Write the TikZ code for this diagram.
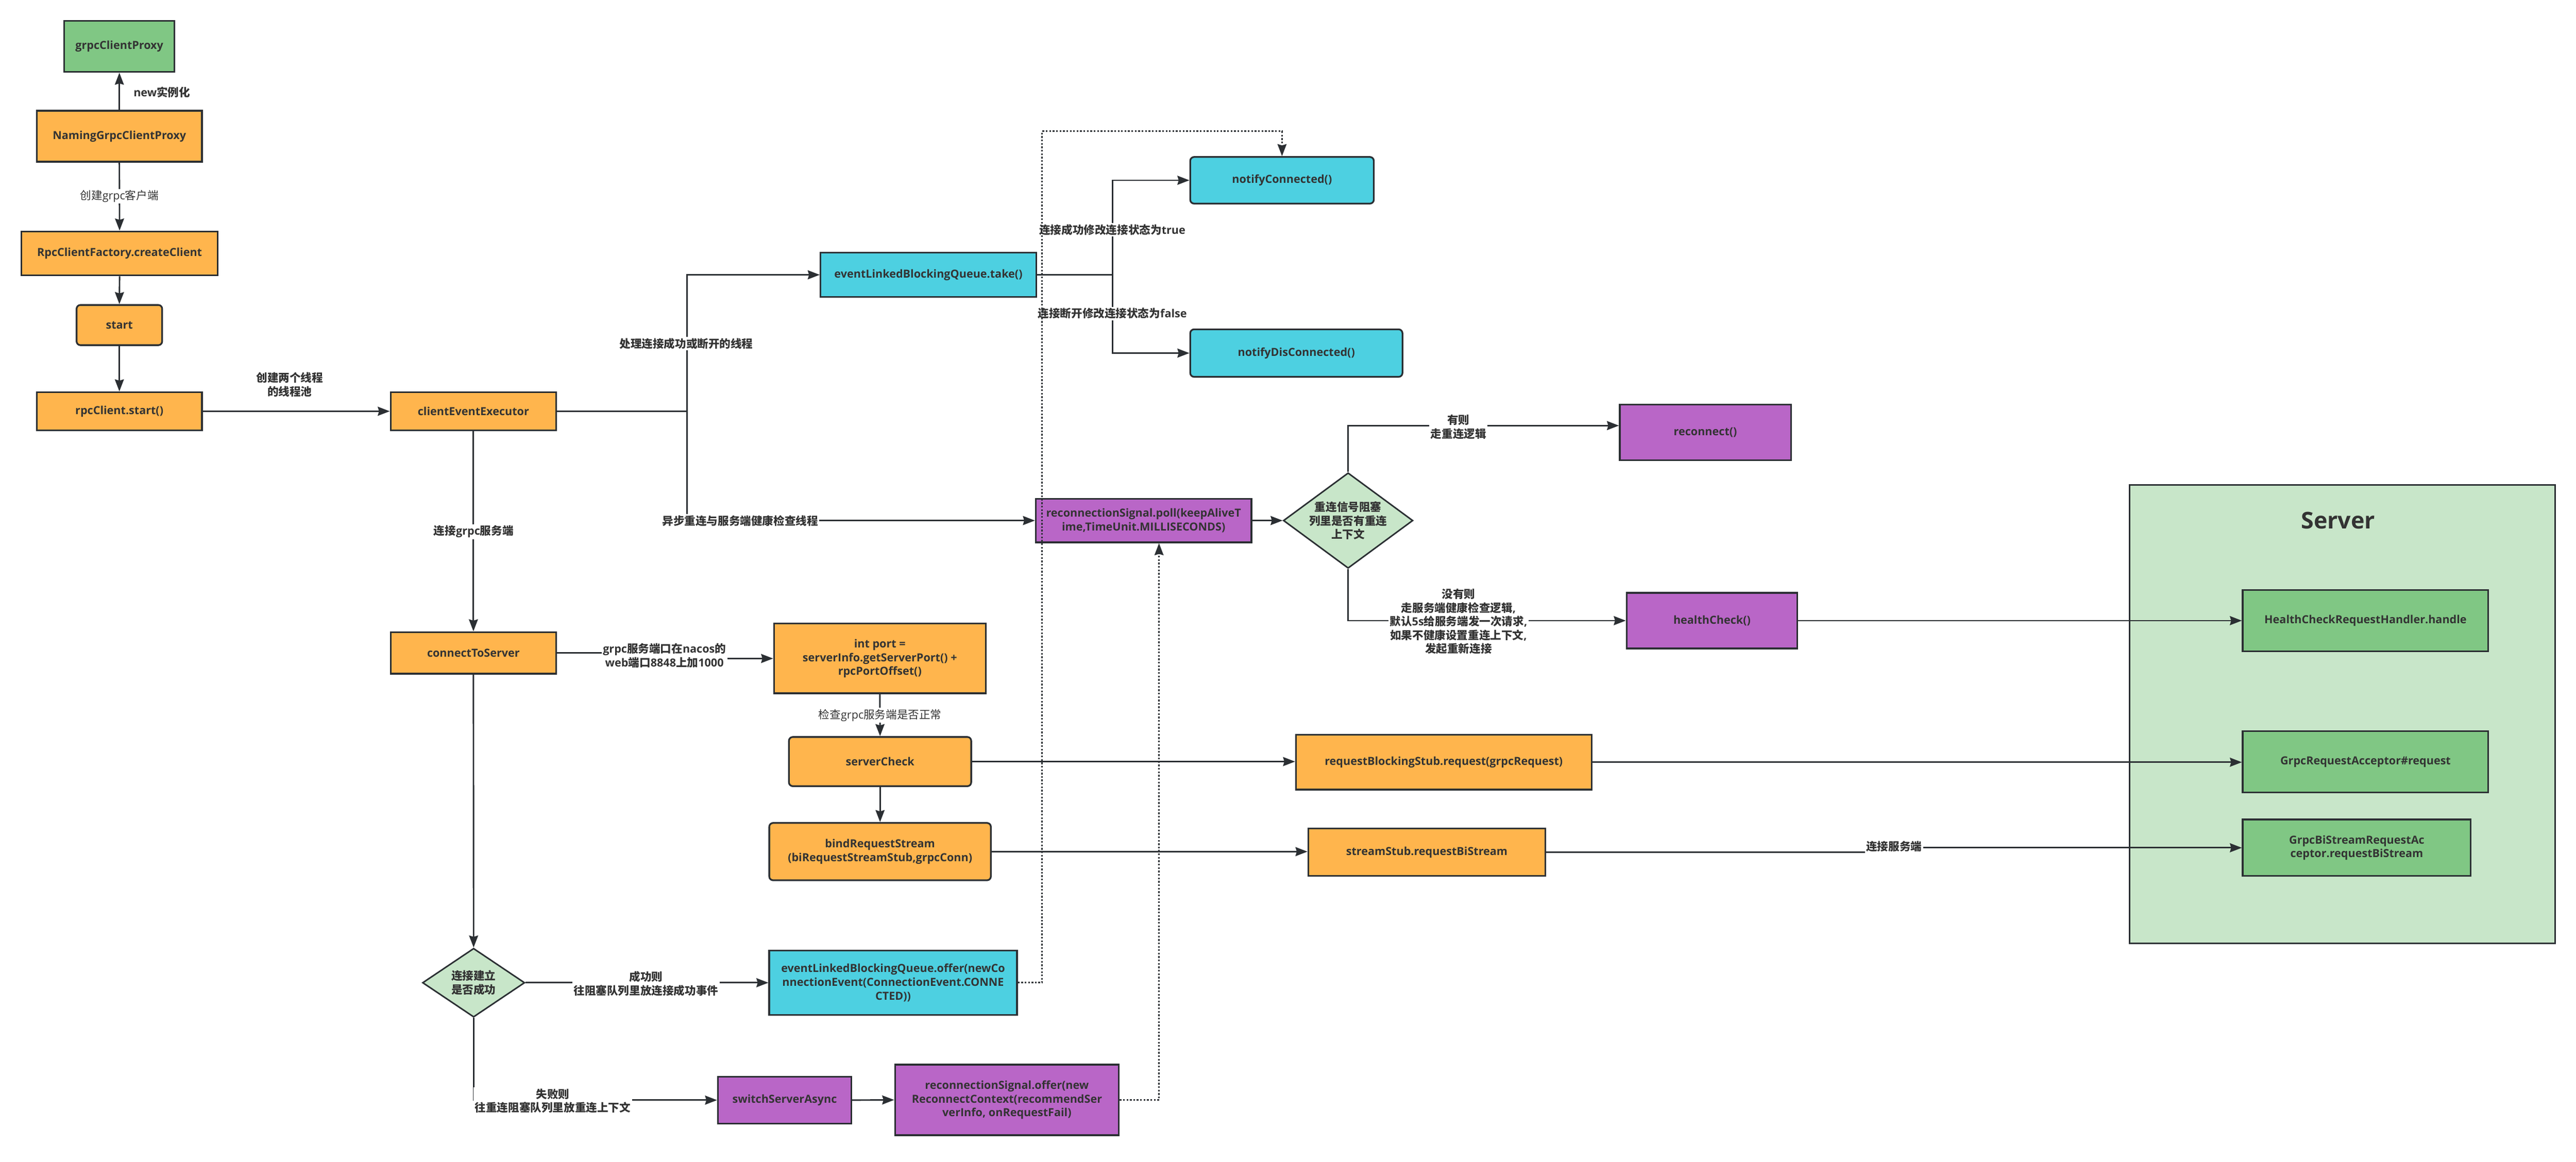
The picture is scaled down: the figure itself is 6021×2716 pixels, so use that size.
\documentclass[tikz,border=0pt]{standalone}
\usepackage{fontspec}
\setmainfont{Open Sans}
\newfontfamily\zhfont{Noto Sans CJK SC}
\newcommand\zhc[1]{{\zhfont #1}}
\usetikzlibrary{arrows.meta,shapes.geometric,calc}
\definecolor{cOrange}{HTML}{FFB54D}
\definecolor{cGreen}{HTML}{80C784}
\definecolor{cCyan}{HTML}{4DD0E1}
\definecolor{cPurple}{HTML}{B966C7}
\definecolor{cLight}{HTML}{C8E6C9}
\definecolor{cEdge}{HTML}{2B2F33}
\definecolor{cText}{HTML}{333333}
\begin{document}
\begin{tikzpicture}[x=1pt,y=-1pt,
  box/.style={draw=cEdge,line width=4pt,text=cText,align=center,inner sep=0pt,font=\fontsize{26}{32}\selectfont\bfseries},
  rbox/.style={box,rounded corners=9pt},
  dbox/.style={box,diamond,fill=cLight,line width=3.5pt},
  arr/.style={draw=cEdge,line width=3.5pt,-{Stealth[length=28pt,width=21pt,inset=3pt]}},
  dotarr/.style={arr,dash pattern=on 4pt off 4pt},
  lbl/.style={text=cText,align=center,inner sep=3pt,font=\fontsize{26}{32}\selectfont\bfseries},
  lblw/.style={lbl,fill=white},
  lbln/.style={lblw,font=\fontsize{26}{32}\selectfont\mdseries},
]
\fill[white] (0,0) rectangle (6021,2716);
\useasboundingbox (0,0) rectangle (6021,2716);

% server container
\node[draw=cEdge,line width=3.5pt,fill=cLight,minimum width=995pt,minimum height=1072pt,inner sep=0pt] (server) at (5474.5,1670) {};
\node[lbl,font=\fontsize{54}{60}\selectfont\bfseries] (servertitle) at (5465,1217) {Server};

% nodes
\node[box,fill=cGreen,minimum width=258pt,minimum height=119pt] (gcp) at (279,108.5) {grpcClientProxy};
\node[box,fill=cOrange,minimum width=386pt,minimum height=119pt] (ngcp) at (279,318.5) {NamingGrpcClientProxy};
\node[box,fill=cOrange,minimum width=459pt,minimum height=103pt] (rcf) at (279.5,592.5) {RpcClientFactory.createClient};
\node[rbox,fill=cOrange,minimum width=200pt,minimum height=94pt] (start) at (279,760) {start};
\node[box,fill=cOrange,minimum width=386pt,minimum height=89pt] (rcs) at (279,961.5) {rpcClient.start()};
\node[box,fill=cOrange,minimum width=387pt,minimum height=89pt] (cee) at (1106.5,961.5) {clientEventExecutor};
\node[box,fill=cCyan,minimum width=504pt,minimum height=103pt] (take) at (2170,642.5) {eventLinkedBlockingQueue.take()};
\node[rbox,fill=cCyan,minimum width=429pt,minimum height=109pt] (nc) at (2996.5,421.5) {notifyConnected()};
\node[rbox,fill=cCyan,minimum width=496pt,minimum height=111pt] (ndc) at (3030,825.5) {notifyDisConnected()};
\node[box,fill=cPurple,minimum width=504pt,minimum height=102pt] (poll) at (2673,1217) {reconnectionSignal.poll(keepAliveT\\ime,TimeUnit.MILLISECONDS)};
\node[dbox,minimum width=297pt,minimum height=219pt,aspect=1.356] (dia2) at (3151,1217) {\zhc{重连信号阻塞}\\\zhc{列里是否有重连}\\\zhc{上下文}};
\node[box,fill=cPurple,minimum width=400pt,minimum height=130pt] (recon) at (3986,1011) {reconnect()};
\node[box,fill=cPurple,minimum width=399pt,minimum height=130pt] (hc) at (4001.5,1451) {healthCheck()};
\node[box,fill=cOrange,minimum width=387pt,minimum height=97pt] (cts) at (1106.5,1526.5) {connectToServer};
\node[box,fill=cOrange,minimum width=495pt,minimum height=163pt] (port) at (2056.5,1539.5) {int port =\\serverInfo.getServerPort() +\\rpcPortOffset()};
\node[rbox,fill=cOrange,minimum width=426pt,minimum height=115pt] (sc) at (2057,1780.5) {serverCheck};
\node[rbox,fill=cOrange,minimum width=518pt,minimum height=134pt] (brs) at (2057,1991) {bindRequestStream\\(biRequestStreamStub,grpcConn)};
\node[box,fill=cOrange,minimum width=691pt,minimum height=128pt] (rbs) at (3374.5,1782) {requestBlockingStub.request(grpcRequest)};
\node[box,fill=cOrange,minimum width=554pt,minimum height=111pt] (ss) at (3335,1992.5) {streamStub.requestBiStream};
\node[dbox,minimum width=239pt,minimum height=161pt,aspect=1.484] (dia1) at (1107,2297.5) {\zhc{连接建立}\\\zhc{是否成功}};
\node[box,fill=cCyan,minimum width=579pt,minimum height=151pt] (offer) at (2087.5,2297.5) {eventLinkedBlockingQueue.offer(newCo\\nnectionEvent(ConnectionEvent.CONNE\\CTED))};
\node[box,fill=cPurple,minimum width=312pt,minimum height=110pt] (ssa) at (1834,2572) {switchServerAsync};
\node[box,fill=cPurple,minimum width=523pt,minimum height=165pt] (rso) at (2353.5,2571.5) {reconnectionSignal.offer(new\\ReconnectContext(recommendSer\\verInfo, onRequestFail)};
\node[box,fill=cGreen,minimum width=574pt,minimum height=144pt] (hcrh) at (5529,1451) {HealthCheckRequestHandler.handle};
\node[box,fill=cGreen,minimum width=574pt,minimum height=144pt] (gra) at (5529,1781) {GrpcRequestAcceptor\#request};
\node[box,fill=cGreen,minimum width=533pt,minimum height=132pt] (gbs) at (5508.5,1982) {GrpcBiStreamRequestAc\\ceptor.requestBiStream};

% junction coordinates
\coordinate (j1) at (1606,961.5);
\coordinate (j2) at (2600,642.5);
\coordinate (dtop) at (2436,307);

% solid connectors
\draw[arr] (ngcp.north) -- (gcp.south);
\draw[arr] (ngcp.south) -- (rcf.north);
\draw[arr] (rcf.south) -- (start.north);
\draw[arr] (start.south) -- (rcs.north);
\draw[arr] (rcs.east) -- (cee.west);
\draw[arr] (cee.east) -- (j1) |- (take.west);
\draw[arr] (j1) |- (poll.west);
\draw[arr] (take.east) -- (j2) |- (nc.west);
\draw[arr] (j2) |- (ndc.west);
\draw[arr] (cee.south) -- (cts.north);
\draw[arr] (cts.east) -- ++(253,0) |- (port.west);
\draw[arr] (port.south) -- (sc.north);
\draw[arr] (sc.south) -- (brs.north);
\draw[arr] (sc.east) -- (sc.east -| rbs.west);
\draw[arr] (brs.east) -- (brs.east -| ss.west);
\draw[arr] (cts.south) -- (dia1.north);
\draw[arr] (dia1.east) -- (offer.west);
\draw[arr] (dia1.south) |- (ssa.west);
\draw[arr] (ssa.east) -- (rso.west);
\draw[arr] (poll.east) -- (dia2.west);
\draw[arr] (dia2.north) |- ([yshift=16pt]recon.west);
\draw[arr] (dia2.south) |- (hc.west);
\draw[arr] (hc.east) -- (hcrh.west);
\draw[arr] (rbs.east) -- (rbs.east -| gra.west);
\draw[arr] (ss.east) -- ++(815,0) |- (gbs.west);

% labels
\node[lbl,anchor=west] (l1) at (309,216) {new\zhc{实例化}};
\node[lbln] (l2) at (279,459) {\zhc{创建}grpc\zhc{客户端}};
\node[lbl] (l3) at (677,899) {\zhc{创建两个线程}\\\zhc{的线程池}};
\node[lblw] (l4) at (1604,803) {\zhc{处理连接成功或断开的线程}};
\node[lblw] (l5) at (1730,1218) {\zhc{异步重连与服务端健康检查线程}};
\node[lblw] (l6) at (2600,537) {\zhc{连接成功修改连接状态为}true};
\node[lblw] (l7) at (2600,733) {\zhc{连接断开修改连接状态为}false};
\node[lblw] (l8) at (1107,1243) {\zhc{连接}grpc\zhc{服务端}};
\node[lblw] (l9) at (1553,1532.5) {grpc\zhc{服务端口在}nacos\zhc{的}\\web\zhc{端口}8848\zhc{上加}1000};
\node[lbln] (l10) at (2057,1672) {\zhc{检查}grpc\zhc{服务端是否正常}};
\node[lblw] (l11) at (1510,2300) {\zhc{成功则}\\\zhc{往阻塞队列里放连接成功事件}};
\node[lblw] (l12) at (1292,2574) {\zhc{失败则}\\\zhc{往重连阻塞队列里放重连上下文}};
\node[lblw] (l13) at (3409,998) {\zhc{有则}\\\zhc{走重连逻辑}};
\node[lblw] (l14) at (3409,1453) {\zhc{没有则}\\\zhc{走服务端健康检查逻辑},\\\zhc{默认}5s\zhc{给服务端发一次请求},\\\zhc{如果不健康设置重连上下文},\\\zhc{发起重新连接}};
\node[lblw] (l15) at (4427,1979) {\zhc{连接服务端}};

% dotted connectors
\draw[dotarr] (offer.east) -| (dtop) -| (nc.north);
\draw[dotarr] (rso.east) -- ++(92,0) coordinate (d2) -- (d2 |- poll.south);
\end{tikzpicture}
\end{document}
